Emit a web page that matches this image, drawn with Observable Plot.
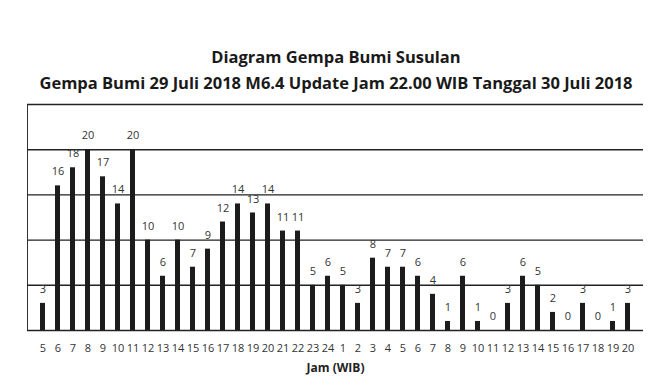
<!DOCTYPE html>
<html>
<head>
<meta charset="utf-8">
<script src="https://cdn.jsdelivr.net/npm/d3@7"></script>
<script src="https://cdn.jsdelivr.net/npm/@observablehq/plot@0.6"></script>
<style>
  body { margin: 0; background: #fff; font-family: "Open Sans", sans-serif; }
  #title { height: 52px; padding-top: 44px; text-align: center; font-weight: bold; font-size: 16.5px; line-height: 26px; color: #1a1a1a; }
  #title div { margin: 0; }
</style>
</head>
<body>
<div id="title">
  <div>Diagram Gempa Bumi Susulan</div>
  <div>Gempa Bumi 29 Juli 2018 M6.4 Update Jam 22.00 WIB Tanggal 30 Juli 2018</div>
</div>
<div id="chart"></div>
<script>
const hours = [5,6,7,8,9,10,11,12,13,14,15,16,17,18,19,20,21,22,23,24,
               1,2,3,4,5,6,7,8,9,10,11,12,13,14,15,16,17,18,19,20];
const counts = [3,16,18,20,17,14,20,10,6,10,7,9,12,14,13,14,11,11,5,6,
                5,3,8,7,7,6,4,1,6,1,0,3,6,5,2,0,3,0,1,3];
const gridValues = [5,10,15,20,25];
const xTitle = "Jam (WIB)";

const data = hours.map((h, i) => ({i, h, v: counts[i]}));

const chart = Plot.plot({
  width: 672,
  height: 290,
  marginTop: 8,
  marginBottom: 56,
  marginLeft: 27,
  marginRight: 29,
  style: {fontFamily: "Open Sans, sans-serif", color: "#333", background: "#fff"},
  x: {type: "band", domain: d3.range(hours.length), padding: 0.66, label: null,
      tickSize: 0, tickPadding: 14, tickFormat: i => hours[i]},
  y: {domain: [0, 25], ticks: [], tickSize: 0, line: true, label: null},
  marks: [
    Plot.ruleY(gridValues, {stroke: "#222", strokeWidth: 1.4}),
    Plot.barY(data, {x: "i", y: "v", fill: "#1c1c1c"}),
    Plot.ruleY([0], {stroke: "#222", strokeWidth: 1.5}),
    Plot.text(data, {x: "i", y: "v", text: d => String(d.v), dy: -14, fontSize: 11, fill: "#333"}),
    Plot.text([xTitle], {frameAnchor: "bottom", dy: 41, fontSize: 12, fontWeight: "bold", fill: "#222"})
  ]
});
chart.querySelectorAll("g[aria-label='x-axis tick label'] text, g[aria-label='x-axis'] text").forEach(t => t.setAttribute("font-size", "11"));
document.getElementById("chart").appendChild(chart);
</script>
</body>
</html>
